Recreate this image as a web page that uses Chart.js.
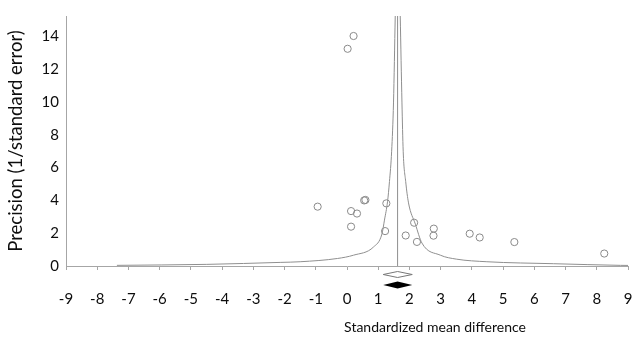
<!DOCTYPE html>
<html>
<head>
<meta charset="utf-8">
<script src="https://cdn.jsdelivr.net/npm/chart.js@4/dist/chart.umd.min.js"></script>
<style>
  html, body { margin: 0; padding: 0; background: #ffffff; }
  #wrap { width: 633px; height: 343px; }
</style>
</head>
<body>
<div id="wrap"><canvas id="funnel" width="633" height="343"></canvas></div>
<script>
// Individual studies: effect size and precision (1/SE)
const studyEffect    = [0.21, 0.02, -0.94, 0.13, 0.32, 0.55, 0.59, 1.26, 0.13, 1.22, 1.88, 2.15, 2.24, 2.78, 2.77, 3.93, 4.25, 5.36, 8.24];
const studyPrecision = [14.03, 13.25, 3.62, 3.35, 3.20, 4.00, 4.03, 3.82, 2.40, 2.13, 1.86, 2.64, 1.47, 2.28, 1.85, 1.97, 1.74, 1.46, 0.76];

// Funnel boundaries (left and right limb)
const funnelLeftX  = [-7.37, -4.49, -2.14, -1.50, -0.30, 0.21, 0.85, 1.12, 1.20, 1.30, 1.36, 1.43, 1.49, 1.545];
const funnelLeftP  = [0.04, 0.10, 0.22, 0.26, 0.46, 0.66, 1.16, 1.96, 2.80, 3.95, 5.15, 7.00, 10.0, 15.25];
const funnelRightX = [1.705, 1.76, 1.80, 1.88, 1.97, 2.19, 2.40, 2.99, 3.50, 4.48, 6.62, 8.76, 9.30];
const funnelRightP = [15.25, 10.0, 7.00, 5.15, 3.85, 2.55, 1.40, 0.66, 0.42, 0.26, 0.14, 0.04, 0.03];

// Pooled estimate with its confidence interval: [lower, point, upper]
const pooledEffect = 1.62;
const observedSummary = [1.16, 1.62, 2.09];
const adjustedSummary = [1.16, 1.62, 2.09];

// Axis ticks
const xTicks = [-9, -8, -7, -6, -5, -4, -3, -2, -1, 0, 1, 2, 3, 4, 5, 6, 7, 8, 9];
const yTicks = [0, 2, 4, 6, 8, 10, 12, 14];
const yTop = 15.25;

const FONT = 'Lato, "Open Sans", sans-serif';
const TEXT = '#0d0d0d';
const AXIS_GREY = '#a6a6a6';
const LINE_GREY = '#8f8f8f';

const toPoints = (xs, ys) => xs.map((x, i) => ({ x: x, y: ys[i] }));

// Summary diamonds below the axis plus the horizontal axis title
const extrasPlugin = {
  id: 'funnelExtras',
  afterDraw(chart) {
    const ctx = chart.ctx;
    const xs = chart.scales.x;
    const base = chart.chartArea.bottom;

    const diamond = (vals, cy, half, filled) => {
      const l = xs.getPixelForValue(vals[0]);
      const c = xs.getPixelForValue(vals[1]);
      const r = xs.getPixelForValue(vals[2]);
      ctx.beginPath();
      ctx.moveTo(l, cy);
      ctx.lineTo(c, cy - half);
      ctx.lineTo(r, cy);
      ctx.lineTo(c, cy + half);
      ctx.closePath();
      if (filled) {
        ctx.fillStyle = '#000000';
        ctx.fill();
      } else {
        ctx.fillStyle = '#ffffff';
        ctx.fill();
        ctx.strokeStyle = '#777777';
        ctx.lineWidth = 1;
        ctx.stroke();
      }
    };

    ctx.save();
    diamond(observedSummary, base + 8.5, 3, false);
    diamond(adjustedSummary, base + 19, 3.5, true);

    ctx.fillStyle = TEXT;
    ctx.font = '14px ' + FONT;
    ctx.textAlign = 'center';
    ctx.textBaseline = 'middle';
    ctx.fillText('Standardized mean difference', 435, 327);
    ctx.restore();
  }
};

new Chart(document.getElementById('funnel'), {
  type: 'scatter',
  data: {
    datasets: [
      {
        label: 'Studies',
        data: toPoints(studyEffect, studyPrecision),
        pointStyle: 'circle',
        pointRadius: 3.6,
        pointBorderWidth: 1,
        pointBorderColor: '#8a8a8a',
        pointBackgroundColor: 'rgba(255,255,255,0)',
        showLine: false
      },
      {
        label: 'Pooled',
        data: [{ x: pooledEffect, y: 0 }, { x: pooledEffect, y: yTop }],
        showLine: true,
        borderColor: LINE_GREY,
        borderWidth: 1,
        pointRadius: 0
      },
      {
        label: 'Lower limit',
        data: toPoints(funnelLeftX, funnelLeftP),
        showLine: true,
        borderColor: LINE_GREY,
        borderWidth: 1,
        pointRadius: 0,
        cubicInterpolationMode: 'monotone'
      },
      {
        label: 'Upper limit',
        data: toPoints(funnelRightX, funnelRightP),
        showLine: true,
        borderColor: LINE_GREY,
        borderWidth: 1,
        pointRadius: 0,
        cubicInterpolationMode: 'monotone'
      }
    ]
  },
  options: {
    responsive: false,
    devicePixelRatio: 1,
    animation: false,
    layout: { padding: { top: 11, right: 5, left: 0, bottom: 0 } },
    plugins: {
      legend: { display: false },
      tooltip: { enabled: false }
    },
    scales: {
      x: {
        type: 'linear',
        min: -9,
        max: 9,
        afterBuildTicks: s => { s.ticks = xTicks.map(v => ({ value: v })); },
        afterFit: s => { s.height = 77; s.paddingLeft = 0; s.paddingRight = 0; },
        grid: { drawOnChartArea: false, drawTicks: true, tickLength: 4, color: AXIS_GREY },
        border: { color: AXIS_GREY, width: 1 },
        ticks: {
          autoSkip: false,
          maxRotation: 0,
          padding: 20,
          color: TEXT,
          font: { family: FONT, size: 15 }
        }
      },
      y: {
        type: 'linear',
        min: 0,
        max: yTop,
        afterBuildTicks: s => { s.ticks = yTicks.map(v => ({ value: v })); },
        afterFit: s => { s.width = 66; },
        grid: { drawOnChartArea: false, drawTicks: false, color: AXIS_GREY },
        border: { color: AXIS_GREY, width: 1 },
        ticks: {
          padding: 7,
          color: TEXT,
          font: { family: FONT, size: 15 }
        },
        title: {
          display: true,
          text: 'Precision (1/standard error)',
          color: TEXT,
          font: { family: FONT, size: 18.5 },
          padding: { top: 5, bottom: 0 }
        }
      }
    }
  },
  plugins: [extrasPlugin]
});
</script>
</body>
</html>
